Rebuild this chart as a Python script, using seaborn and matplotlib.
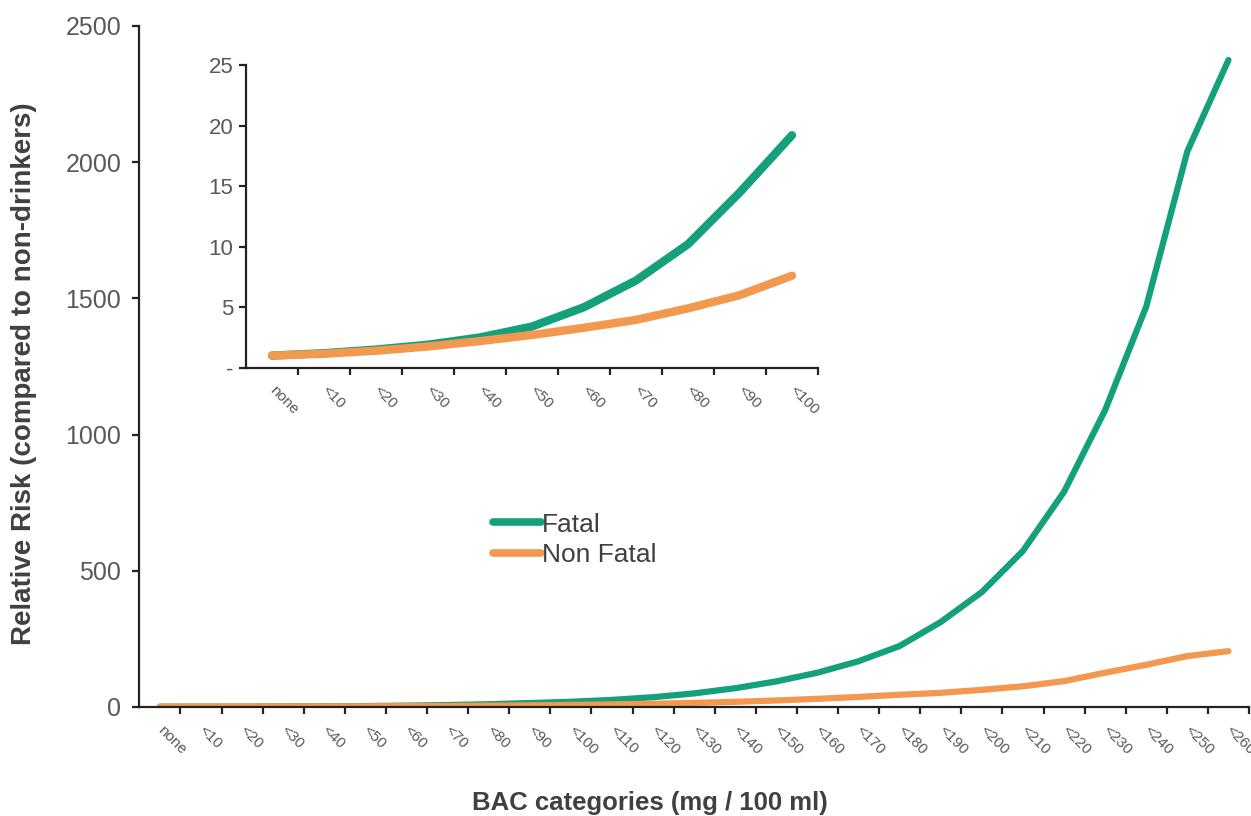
import numpy as np
import pandas as pd
import matplotlib
matplotlib.use('Agg')
import matplotlib.pyplot as plt
import seaborn as sns

# ---------------- data ----------------
categories = ['none', '<10', '<20', '<30', '<40', '<50', '<60', '<70', '<80', '<90',
              '<100', '<110', '<120', '<130', '<140', '<150', '<160', '<170', '<180',
              '<190', '<200', '<210', '<220', '<230', '<240', '<250', '<260']
fatal = [1.0, 1.2, 1.5, 1.9, 2.5, 3.4, 5.0, 7.2, 10.2, 14.5, 19.2,
         26, 36, 50, 69, 94, 126, 168, 224, 312, 422, 573, 790, 1090, 1470, 2040, 2375]
non_fatal = [1.0, 1.15, 1.4, 1.75, 2.2, 2.7, 3.3, 3.95, 4.9, 6.0, 7.6,
             9.5, 12, 15, 19, 24, 30, 37, 45, 52, 63, 76, 95, 126, 155, 187, 205]
series_names = ['Fatal', 'Non Fatal']
main_yticks = [0, 500, 1000, 1500, 2000, 2500]
inset_n = 11  # none .. <100
inset_yticks = [0, 5, 10, 15, 20, 25]
inset_ytick_labels = ['-', '5', '10', '15', '20', '25']

GREEN = '#14a07a'
ORANGE = '#f2994f'
palette = {'Fatal': GREEN, 'Non Fatal': ORANGE}

sns.set_style('white')
plt.rcParams['font.family'] = ['Liberation Sans', 'DejaVu Sans']

W, H = 1251, 816
fig = plt.figure(figsize=(W / 100, H / 100), dpi=100)

n = len(categories)
pos = np.arange(n)
df = pd.DataFrame({
    'pos': np.concatenate([pos, pos]),
    'value': fatal + non_fatal,
    'Series': [series_names[0]] * n + [series_names[1]] * n,
})

TICK_COL = '#595959'
TEXT_COL = '#404040'


def style_axis(a, npos, labels, xfont):
    for s in ['top', 'right']:
        a.spines[s].set_visible(False)
    for s in ['left', 'bottom']:
        a.spines[s].set_color('#222222')
        a.spines[s].set_linewidth(1.6)
    a.set_xlim(-0.5, npos - 0.5)
    a.set_xticks(np.arange(npos) + 0.5)
    a.set_xticklabels([])
    a.set_xticks(np.arange(npos), minor=True)
    a.set_xticklabels(labels, minor=True, rotation=-45, ha='left', va='center',
                      rotation_mode='anchor', fontsize=xfont, color=TICK_COL)
    a.tick_params(axis='x', which='major', direction='out', length=5, width=1.6,
                  color='#222222', bottom=True)
    a.tick_params(axis='x', which='minor', length=0, pad=15, bottom=True)
    a.tick_params(axis='y', direction='out', length=5, width=1.6, color='#222222', left=True)
    a.grid(False)


# ---------------- main axes ----------------
ax = fig.add_axes([139.3 / W, (H - 707) / H, (1249 - 139.3) / W, (707 - 26) / H])
sns.lineplot(data=df, x='pos', y='value', hue='Series', palette=palette,
             linewidth=4.5, sort=False, ax=ax, solid_capstyle='round')
style_axis(ax, n, categories, 11)
ax.set_ylim(0, 2500)
ax.set_yticks(main_yticks)
ax.set_yticklabels([str(v) for v in main_yticks], fontsize=18, color=TICK_COL)
ax.tick_params(axis='y', pad=8)
ax.set_ylabel('Relative Risk (compared to non-drinkers)', fontsize=20,
              fontweight='bold', color=TEXT_COL)
ax.yaxis.set_label_coords(-0.092, 0.49)
ax.set_xlabel('BAC categories (mg / 100 ml)', fontsize=18.5, fontweight='bold',
              color=TEXT_COL)
ax.xaxis.set_label_coords(0.46, -0.124)

handles, labels = ax.get_legend_handles_labels()
if ax.legend_ is not None:
    ax.legend_.remove()
leg = ax.legend(handles, labels, loc='center left',
                bbox_to_anchor=(493 / W, (H - 540) / H), bbox_transform=fig.transFigure,
                frameon=False, fontsize=19, handlelength=1.8, handletextpad=0.05,
                labelspacing=0.25, borderpad=0, borderaxespad=0)
for t in leg.get_texts():
    t.set_color(TEXT_COL)
for h in leg.get_lines():
    h.set_linewidth(5.5)
    h.set_solid_capstyle('round')

# ---------------- inset axes ----------------
axin = fig.add_axes([246 / W, (H - 367.7) / H, 572 / W, (367.7 - 65) / H])
axin.set_facecolor('white')
df_in = df[df['pos'] < inset_n]
sns.lineplot(data=df_in, x='pos', y='value', hue='Series', palette=palette,
             linewidth=6, sort=False, ax=axin, legend=False, solid_capstyle='round')
style_axis(axin, inset_n, categories[:inset_n], 11)
axin.set_ylim(0, 25)
axin.set_yticks(inset_yticks)
axin.set_yticklabels(inset_ytick_labels, fontsize=16, color=TICK_COL)
axin.tick_params(axis='y', pad=4)
axin.set_xlabel('')
axin.set_ylabel('')

fig.savefig('out.png', dpi=100, facecolor='white')
